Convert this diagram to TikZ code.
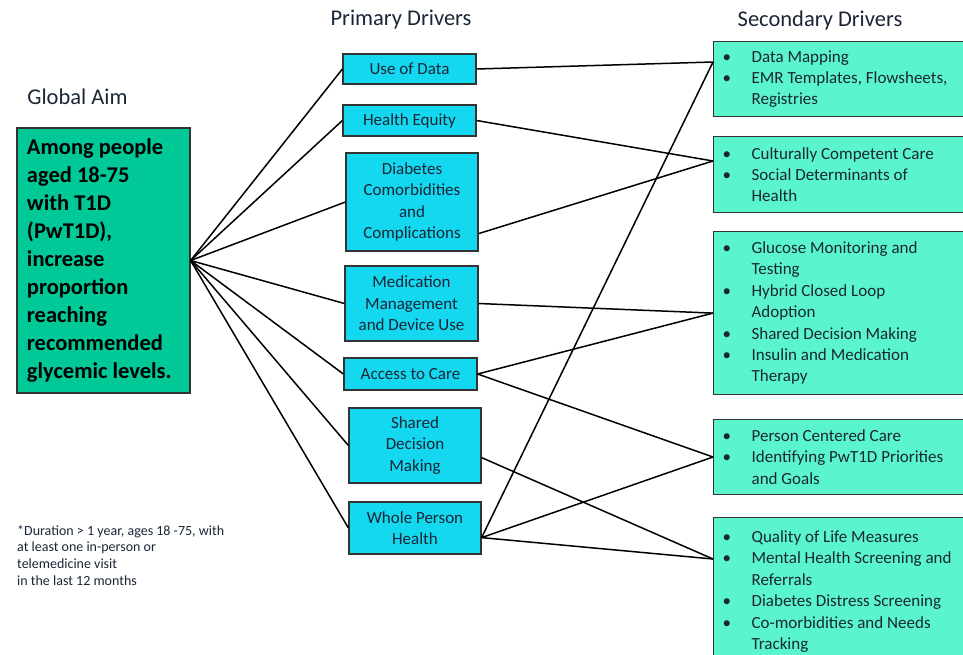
\documentclass[tikz,border=0pt]{standalone}
\usepackage{fontspec}
\setmainfont{Carlito}
\usetikzlibrary{calc}
\definecolor{aimfill}{HTML}{00C896}
\definecolor{pfill}{HTML}{14D7F0}
\definecolor{sfill}{HTML}{5AF5CD}
\definecolor{txt}{HTML}{1A2636}
\definecolor{edge}{HTML}{333333}
\newcommand\sbul{\makebox[29pt][l]{\textbullet}}
\newcommand\scont{\hspace*{29pt}}
\begin{document}
\begin{tikzpicture}[x=1pt,y=-1pt,
  box/.style={draw=edge, line width=1.2pt, rectangle, inner sep=0pt},
  aimbox/.style={box, fill=aimfill, minimum width=173pt, minimum height=265pt, align=flush left,
    inner xsep=10pt, text width=153pt, font=\fontsize{22.5}{28.1}\selectfont\bfseries, text=black},
  pbox/.style={box, fill=pfill, align=center, text=txt, font=\fontsize{17}{21.5}\selectfont},
  sbox/.style={box, fill=sfill, anchor=north west, minimum width=270pt, align=flush left, text=txt,
    font=\fontsize{17}{21.4}\selectfont, inner xsep=9pt, text width=252pt},
  ttl/.style={font=\fontsize{22.5}{27}\selectfont, text=txt},
  link/.style={line width=1.5pt, black}]
\useasboundingbox (0,0) rectangle (963,654);
\clip (0,0) rectangle (963,654);

% titles
\node[ttl] (tga) at (77.5,97) {Global Aim};
\node[ttl] (tpd) at (401,20) {Primary Drivers};
\node[ttl] (tsd) at (820,20) {Secondary Drivers};

% global aim
\node[aimbox] (aim) at (103.5,260.5) {Among people\\aged 18-75\\with T1D\\(PwT1D),\\increase\\proportion\\reaching\\recommended\\glycemic levels.};

% primary drivers
\node[pbox, minimum width=133pt, minimum height=30pt] (p1) at (409.5,69) {Use of Data};
\node[pbox, minimum width=133pt, minimum height=31pt] (p2) at (409.5,120.5) {Health Equity};
\node[pbox, minimum width=132pt, minimum height=98pt] (p3) at (412,202) {Diabetes\\Comorbidities\\and\\Complications};
\node[pbox, minimum width=133pt, minimum height=75pt] (p4) at (411.5,303.5) {Medication\\Management\\and Device Use};
\node[pbox, minimum width=133pt, minimum height=32pt] (p5) at (410.5,374) {Access to Care};
\node[pbox, minimum width=132pt, minimum height=75pt] (p6) at (415,445.5) {Shared\\Decision\\Making};
\node[pbox, minimum width=132pt, minimum height=52pt] (p7) at (415,528) {Whole Person\\Health};

% secondary drivers
\node[sbox, minimum height=75pt] (s1) at (713,41) {\sbul Data Mapping\\\sbul EMR Templates, Flowsheets,\\\scont Registries};
\node[sbox, minimum height=76pt] (s2) at (713,136) {\sbul Culturally Competent Care\\\sbul Social Determinants of\\\scont Health};
\node[sbox, minimum height=163pt] (s3) at (713,231) {\sbul Glucose Monitoring and\\\scont Testing\\\sbul Hybrid Closed Loop\\\scont Adoption\\\sbul Shared Decision Making\\\sbul Insulin and Medication\\\scont Therapy};
\node[sbox, minimum height=75pt] (s4) at (713,419) {\sbul Person Centered Care\\\sbul Identifying PwT1D Priorities\\\scont and Goals};
\node[sbox, minimum height=148pt] (s5) at (713,517) {\sbul Quality of Life Measures\\\sbul Mental Health Screening and\\\scont Referrals\\\sbul Diabetes Distress Screening\\\sbul Co-morbidities and Needs\\\scont Tracking};

% footnote
\node[anchor=north west, inner sep=0pt, align=flush left, text=txt, font=\fontsize{14}{16.8}\selectfont] (fn) at (17,525)
  {*Duration > 1 year, ages 18 -75, with\\at least one in-person or\\telemedicine visit\\in the last 12 months};

% anchor points
\coordinate (s1in) at ($(s1.north west)+(0,21)$);
\coordinate (s2in) at ($(s2.north west)+(0,25)$);
\coordinate (s3in) at (s3.west);
\coordinate (s4in) at ($(s4.north west)+(0,38)$);
\coordinate (s5in) at ($(s5.north west)+(0,42)$);
\coordinate (p3out) at ($(p3.south east)+(0,-18)$);
\coordinate (p6out) at ($(p6.south east)+(0,-26)$);
\coordinate (p7out) at ($(p7.south east)+(0,-17)$);

% aim to primary
\foreach \p in {p1,p2,p3,p4,p5,p6,p7} \draw[link] (aim.east) -- (\p.west);

% primary to secondary
\draw[link] (p1.east) -- (s1in);
\draw[link] (p2.east) -- (s2in);
\draw[link] (p3out) -- (s2in);
\draw[link] (p4.east) -- (s3in);
\draw[link] (p5.east) -- (s3in);
\draw[link] (p5.east) -- (s4in);
\draw[link] (p6out) -- (s5in);
\draw[link] (p7out) -- (s1in);
\draw[link] (p7out) -- (s4in);
\draw[link] (p7out) -- (s5in);
\end{tikzpicture}
\end{document}
